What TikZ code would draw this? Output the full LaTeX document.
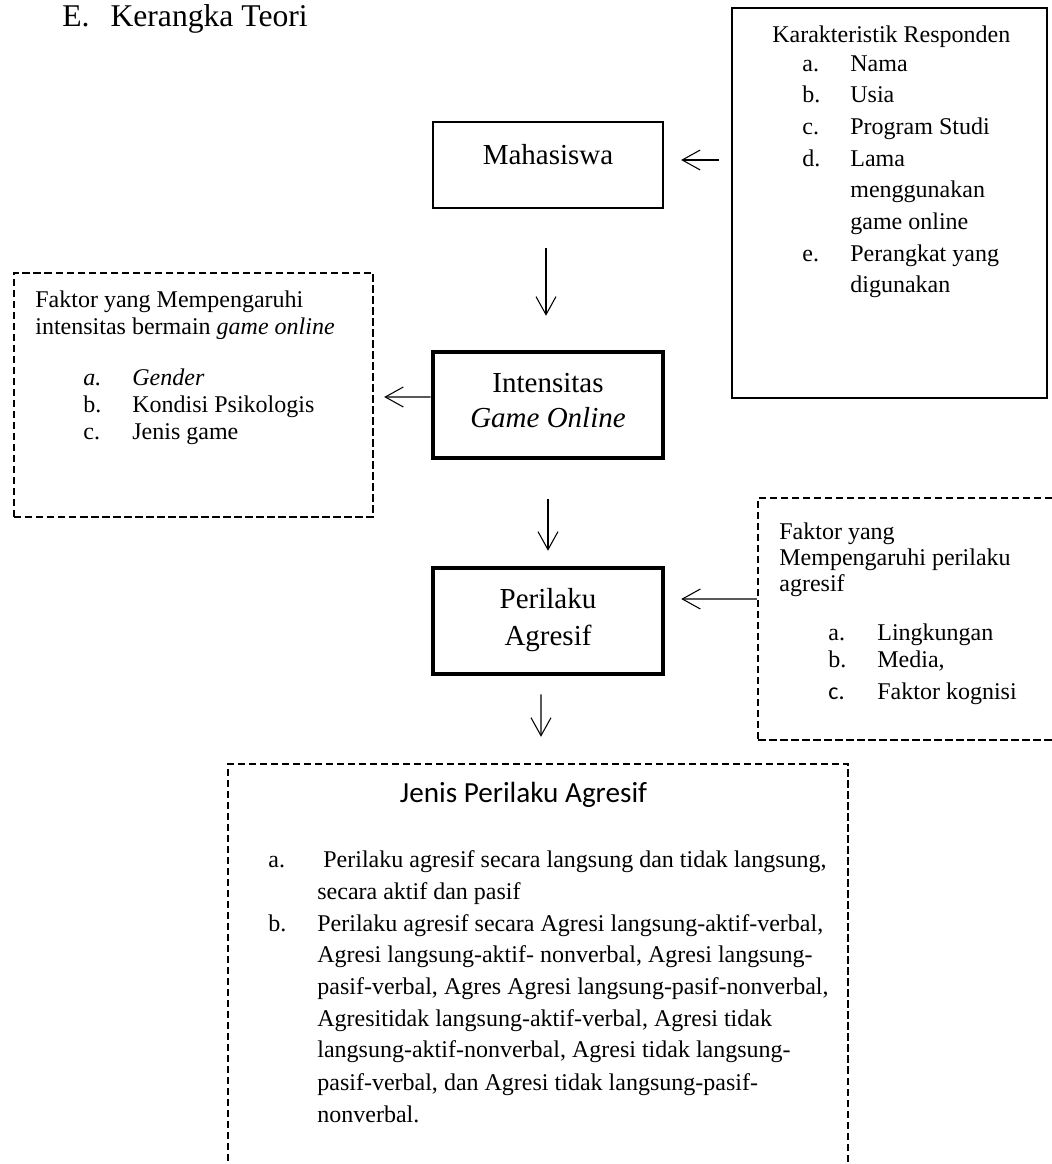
\documentclass[tikz,border=0pt]{standalone}
\usepackage{fontspec}
\setmainfont{Liberation Serif}
\newfontfamily\calibrifont{Carlito}
\usetikzlibrary{arrows.meta}

\begin{document}
\begin{tikzpicture}[
    txt/.style={anchor=base west, inner sep=0pt, font=\fontsize{13.66}{16}\selectfont},
    bigtxt/.style={anchor=base, inner sep=0pt, font=\fontsize{16.5}{20}\selectfont},
    plainbox/.style={draw, inner sep=0pt, line width=1.3pt},
    boldbox/.style={draw, inner sep=0pt, line width=2.6pt},
    dashbox/.style={draw, inner sep=0pt, line width=1.4pt, dash pattern=on 0.15cm off 0.07cm},
    arr/.style={line width=0.6pt, -{Straight Barb[length=0.36cm, width=0.40cm]}}
  ]
  \useasboundingbox (0,0) rectangle (21.04,23.28);
  \clip (0,0) rectangle (21.04,23.28);

  % Heading
  \node[txt, font=\fontsize{18}{22}\selectfont] (title) at (1.24,22.74) {E.\hspace{0.42cm}Kerangka Teori};

  % Box: karakteristik responden
  \node[plainbox, line width=1.1pt, minimum width=6.30cm, minimum height=7.80cm] (karak) at (17.79,19.22) {};
  \node[txt] (karak-t) at (15.44,22.42) {Karakteristik Responden};
  \node[txt] (karak-la) at (16.04,21.84) {a.};
  \node[txt] (karak-a) at (17.00,21.84) {Nama};
  \node[txt] (karak-lb) at (16.04,21.22) {b.};
  \node[txt] (karak-b) at (17.00,21.22) {Usia};
  \node[txt] (karak-lc) at (16.04,20.58) {c.};
  \node[txt] (karak-c) at (17.00,20.58) {Program Studi};
  \node[txt] (karak-ld) at (16.04,19.94) {d.};
  \node[txt] (karak-d1) at (17.00,19.94) {Lama};
  \node[txt] (karak-d2) at (17.00,19.32) {menggunakan};
  \node[txt] (karak-d3) at (17.00,18.68) {game online};
  \node[txt] (karak-le) at (16.04,18.04) {e.};
  \node[txt] (karak-e1) at (17.00,18.04) {Perangkat yang};
  \node[txt] (karak-e2) at (17.00,17.42) {digunakan};

  % Box: mahasiswa
  \node[plainbox, minimum width=4.60cm, minimum height=1.72cm] (mhs) at (10.96,19.98) {};
  \node[bigtxt] (mhs-t) at (10.96,19.98) {Mahasiswa};

  % Box: intensitas game online
  \node[boldbox, minimum width=4.60cm, minimum height=2.12cm] (intens) at (10.96,15.18) {};
  \node[bigtxt] (intens-t1) at (10.96,15.42) {Intensitas};
  \node[bigtxt] (intens-t2) at (10.96,14.72) {\itshape Game Online};

  % Box: perilaku agresif
  \node[boldbox, minimum width=4.60cm, minimum height=2.12cm] (perilaku) at (10.96,10.86) {};
  \node[bigtxt] (perilaku-t1) at (10.96,11.10) {Perilaku};
  \node[bigtxt] (perilaku-t2) at (10.96,10.36) {Agresif};

  % Box: faktor intensitas (left)
  \node[dashbox, minimum width=7.18cm, minimum height=4.88cm] (fintens) at (3.87,15.38) {};
  \node[txt] (fintens-t1) at (0.70,17.12) {Faktor yang Mempengaruhi};
  \node[txt] (fintens-t2) at (0.70,16.58) {intensitas bermain \textit{game online}};
  \node[txt] (fintens-la) at (1.66,15.56) {\textit{a.}};
  \node[txt] (fintens-a) at (2.64,15.56) {\textit{Gender}};
  \node[txt] (fintens-lb) at (1.66,15.02) {b.};
  \node[txt] (fintens-b) at (2.64,15.02) {Kondisi Psikologis};
  \node[txt] (fintens-lc) at (1.66,14.48) {c.};
  \node[txt] (fintens-c) at (2.64,14.48) {Jenis game};

  % Box: faktor perilaku agresif (right)
  \node[dashbox, minimum width=6.24cm, minimum height=4.84cm] (fagresif) at (18.28,10.90) {};
  \node[txt] (fagresif-t1) at (15.58,12.48) {Faktor yang};
  \node[txt] (fagresif-t2) at (15.58,11.96) {Mempengaruhi perilaku};
  \node[txt] (fagresif-t3) at (15.58,11.44) {agresif};
  \node[txt] (fagresif-la) at (16.56,10.46) {a.};
  \node[txt] (fagresif-a) at (17.54,10.46) {Lingkungan};
  \node[txt] (fagresif-lb) at (16.56,9.92) {b.};
  \node[txt] (fagresif-b) at (17.54,9.92) {Media,};
  \node[txt] (fagresif-lc) at (16.56,9.28) {\calibrifont c.};
  \node[txt] (fagresif-c) at (17.54,9.28) {Faktor kognisi};

  % Box: jenis perilaku agresif (bottom)
  \node[dashbox, minimum width=12.40cm, minimum height=8.32cm] (jenis) at (10.76,3.84) {};
  \node[anchor=base, inner sep=0pt, font=\calibrifont\fontsize{16.6}{20}\selectfont] (jenis-t) at (10.47,7.22) {Jenis Perilaku Agresif};
  \node[txt] (jenis-la) at (5.36,5.92) {a.};
  \node[txt] (jenis-a1) at (6.34,5.92) {\hspace{0.12cm}Perilaku agresif secara langsung dan tidak langsung,};
  \node[txt] (jenis-a2) at (6.34,5.28) {secara aktif dan pasif};
  \node[txt] (jenis-lb) at (5.36,4.64) {b.};
  \node[txt] (jenis-b1) at (6.34,4.64) {Perilaku agresif secara Agresi langsung-aktif-verbal,};
  \node[txt] (jenis-b2) at (6.34,4.02) {Agresi langsung-aktif- nonverbal, Agresi langsung-};
  \node[txt] (jenis-b3) at (6.34,3.38) {pasif-verbal, Agres Agresi langsung-pasif-nonverbal,};
  \node[txt] (jenis-b4) at (6.34,2.74) {Agresitidak langsung-aktif-verbal, Agresi tidak};
  \node[txt] (jenis-b5) at (6.34,2.12) {langsung-aktif-nonverbal, Agresi tidak langsung-};
  \node[txt] (jenis-b6) at (6.34,1.48) {pasif-verbal, dan Agresi tidak langsung-pasif-};
  \node[txt] (jenis-b7) at (6.34,0.84) {nonverbal.};

  % Arrows
  \draw[arr, shorten <=0.24cm, shorten >=0.34cm] ([yshift=0.86cm]karak.west) -- ([yshift=0.10cm]mhs.east);
  \draw[arr, shorten <=0.78cm, shorten >=0.68cm] ([xshift=-0.04cm]mhs.south) -- ([xshift=-0.04cm]intens.north);
  \draw[arr, shorten >=0.20cm] ([yshift=0.16cm]intens.west) -- ([yshift=-0.04cm]fintens.east);
  \draw[arr, shorten <=0.78cm, shorten >=0.30cm] (intens.south) -- (perilaku.north);
  \draw[arr, shorten >=0.32cm] ([yshift=0.40cm]fagresif.west) -- ([yshift=0.44cm]perilaku.east);
  \draw[arr, shorten <=0.36cm, shorten >=0.52cm] ([xshift=-0.14cm]perilaku.south) -- ([xshift=0.06cm]jenis.north);
\end{tikzpicture}
\end{document}
